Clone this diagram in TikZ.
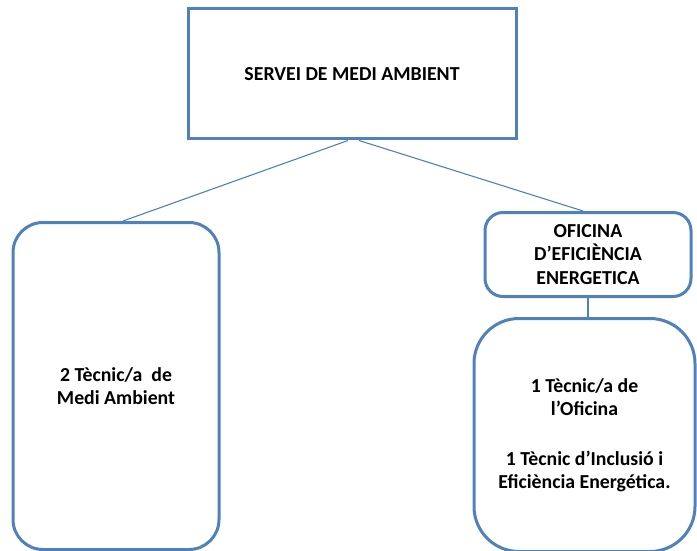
\documentclass[tikz,border=0pt]{standalone}
\usepackage{fontspec}
\setmainfont{Carlito}
\usetikzlibrary{positioning}
\definecolor{boxblue}{RGB}{79,129,189}

\begin{document}
\begin{tikzpicture}[x=1pt,y=-1pt,
	n_box/.style={
		rectangle,
		draw=boxblue,
		line width=3pt,
		fill=white,
		align=center,
		font=\fontsize{19.8}{23.5}\selectfont\bfseries,
		inner sep=0pt,
		},
	n_link/.style={
		draw=boxblue,
		line width=1.1pt,
		}]

	\useasboundingbox (0,0) rectangle (697,551);

	\node(servei)[n_box, minimum width=328pt, minimum height=130pt] at (352,74) {SERVEI DE MEDI AMBIENT};
	\node(tecmedi)[n_box, minimum width=206pt, minimum height=327pt, rounded corners=30pt] at (116,386) {2 Tècnic/a \ de\\Medi Ambient};
	\node(oficina)[n_box, minimum width=206pt, minimum height=84pt, rounded corners=18pt] at (588,254.5) {OFICINA\\D’EFICIÈNCIA\\ENERGETICA};
	\node(tecofi)[n_box, minimum width=221pt, minimum height=233pt, rounded corners=45pt, below=19pt of oficina, xshift=-3.5pt] {1 Tècnic/a de\\l’Oficina\\[26pt]1 Tècnic d’Inclusió i\\Eficiència Energética.};
	\path ([xshift=-4pt]servei.south) edge[n_link] ([xshift=7pt]tecmedi.north);
	\path ([xshift=7pt]servei.south) edge[n_link] ([xshift=-5pt]oficina.north);
	\path (oficina.south) edge[n_link] (oficina.south |- tecofi.north);

\end{tikzpicture}
\end{document}
